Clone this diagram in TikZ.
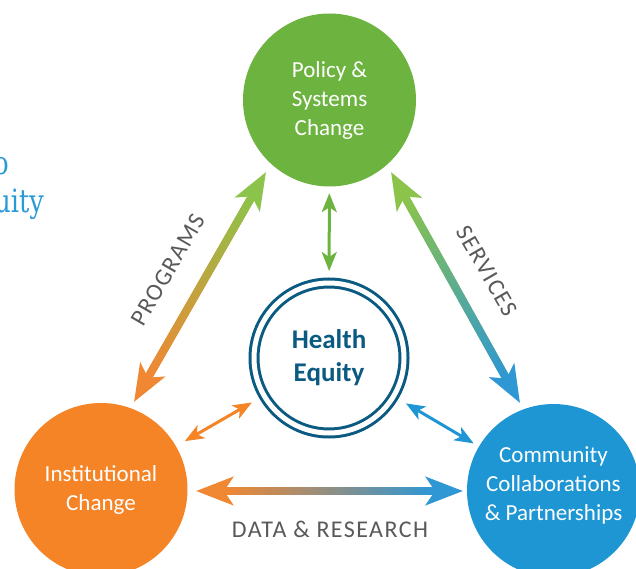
\documentclass[tikz,border=0pt]{standalone}
\usepackage{fontspec}
\setmainfont{Carlito}
\newfontfamily\slabfont{DejaVu Serif}
\newfontfamily\spacedfont[LetterSpace=6]{Carlito}
\usetikzlibrary{arrows.meta,calc}
\definecolor{policyG}{HTML}{6DB33F}
\definecolor{instO}{HTML}{F48426}
\definecolor{commB}{HTML}{1E96D3}
\definecolor{equityB}{HTML}{0B5A82}
\definecolor{arrowG}{HTML}{8CC34B}
\definecolor{arrowO}{HTML}{F08733}
\definecolor{arrowB}{HTML}{2F97D4}
\definecolor{labelG}{HTML}{595959}
\definecolor{titleB}{HTML}{2A9AD6}
\tikzset{
  hub/.style={circle, minimum size=173pt, inner sep=0pt, text=white, align=center,
    font=\fontsize{23}{29}\selectfont},
  core/.style={circle, minimum size=150pt, inner sep=0pt, draw=equityB, line width=3pt,
    double=white, double distance=5pt, text=equityB, align=center,
    font=\bfseries\fontsize{27}{33}\selectfont},
  sidelabel/.style={text=labelG, inner sep=0pt, font=\spacedfont\fontsize{24}{28}\selectfont},
  titlebit/.style={text=titleB, inner sep=0pt, font=\slabfont\fontsize{32}{36}\selectfont},
  bigtip/.tip={Stealth[length=37pt,width=28pt,inset=9pt]},
  smallarrow/.style={line width=3pt,
    {Stealth[length=19pt,width=15pt,inset=5pt]}-{Stealth[length=19pt,width=15pt,inset=5pt]}}
}
% gradient double arrow: start, end, start colour, end colour
\newcommand\flowarrow[4]{%
  \draw[line width=8pt, draw=#3, {bigtip[color=#3]}-{bigtip[color=#4]}] (#1) -- (#2);
  \coordinate (#1-in) at ($(#1)!29pt!(#2)$);
  \coordinate (#2-in) at ($(#2)!29pt!(#1)$);
  \foreach \k [evaluate=\k as \p using 100-100*\k/39,
               evaluate=\k as \ta using \k/40,
               evaluate=\k as \tb using (\k+1.1)/40] in {0,...,39}
    \draw[line width=8pt, draw=#3!\p!#4] ($(#1-in)!\ta!(#2-in)$) -- ($(#1-in)!\tb!(#2-in)$);
}
\begin{document}
\begin{tikzpicture}[x=1pt, y=-1pt]
\useasboundingbox (0,0) rectangle (636,569);
\node [hub, fill=policyG] (policy) at (329.5,100) {Policy \&\\Systems\\Change};
\node [hub, fill=instO] (inst) at (101,489.5) {Institutional\\Change};
\node [hub, fill=commB] (comm) at (553.5,490.5) {};
\node [hub] (commtext) at (553.5,485) {Community\\Collaborations\\\& Partnerships};
\node [core] (equity) at (329,358) {Health\\Equity};
%
\node [titlebit, anchor=base east] (to) at (9,175) {\scalebox{0.8}[1]{o}};
\node [titlebit, anchor=base east] (eq) at (44,212) {\scalebox{0.8}[1]{uity}};
%
\coordinate (pgA) at (134,402);
\coordinate (pgB) at (266,172);
\coordinate (svA) at (391,172);
\coordinate (svB) at (520,403);
\coordinate (drA) at (196,491);
\coordinate (drB) at (463,491);
\flowarrow{pgA}{pgB}{arrowO}{arrowG}
\flowarrow{svA}{svB}{arrowG}{arrowB}
\flowarrow{drA}{drB}{arrowO}{arrowB}
%
\draw [smallarrow, policyG, shorten <=6.5pt, shorten >=10.5pt] (policy) -- (equity);
\draw [smallarrow, instO, shorten <=10pt, shorten >=12.5pt] (inst) -- (equity);
\draw [smallarrow, commB, shorten <=12.8pt, shorten >=6pt] (equity) -- (comm);
%
\node [sidelabel, rotate=60] (programs) at (168,270) {PROGRAMS};
\node [sidelabel, rotate=-60] (services) at (487,271) {SERVICES};
\node [sidelabel, anchor=base] (data) at (330,537) {DATA \& RESEARCH};
\end{tikzpicture}
\end{document}
